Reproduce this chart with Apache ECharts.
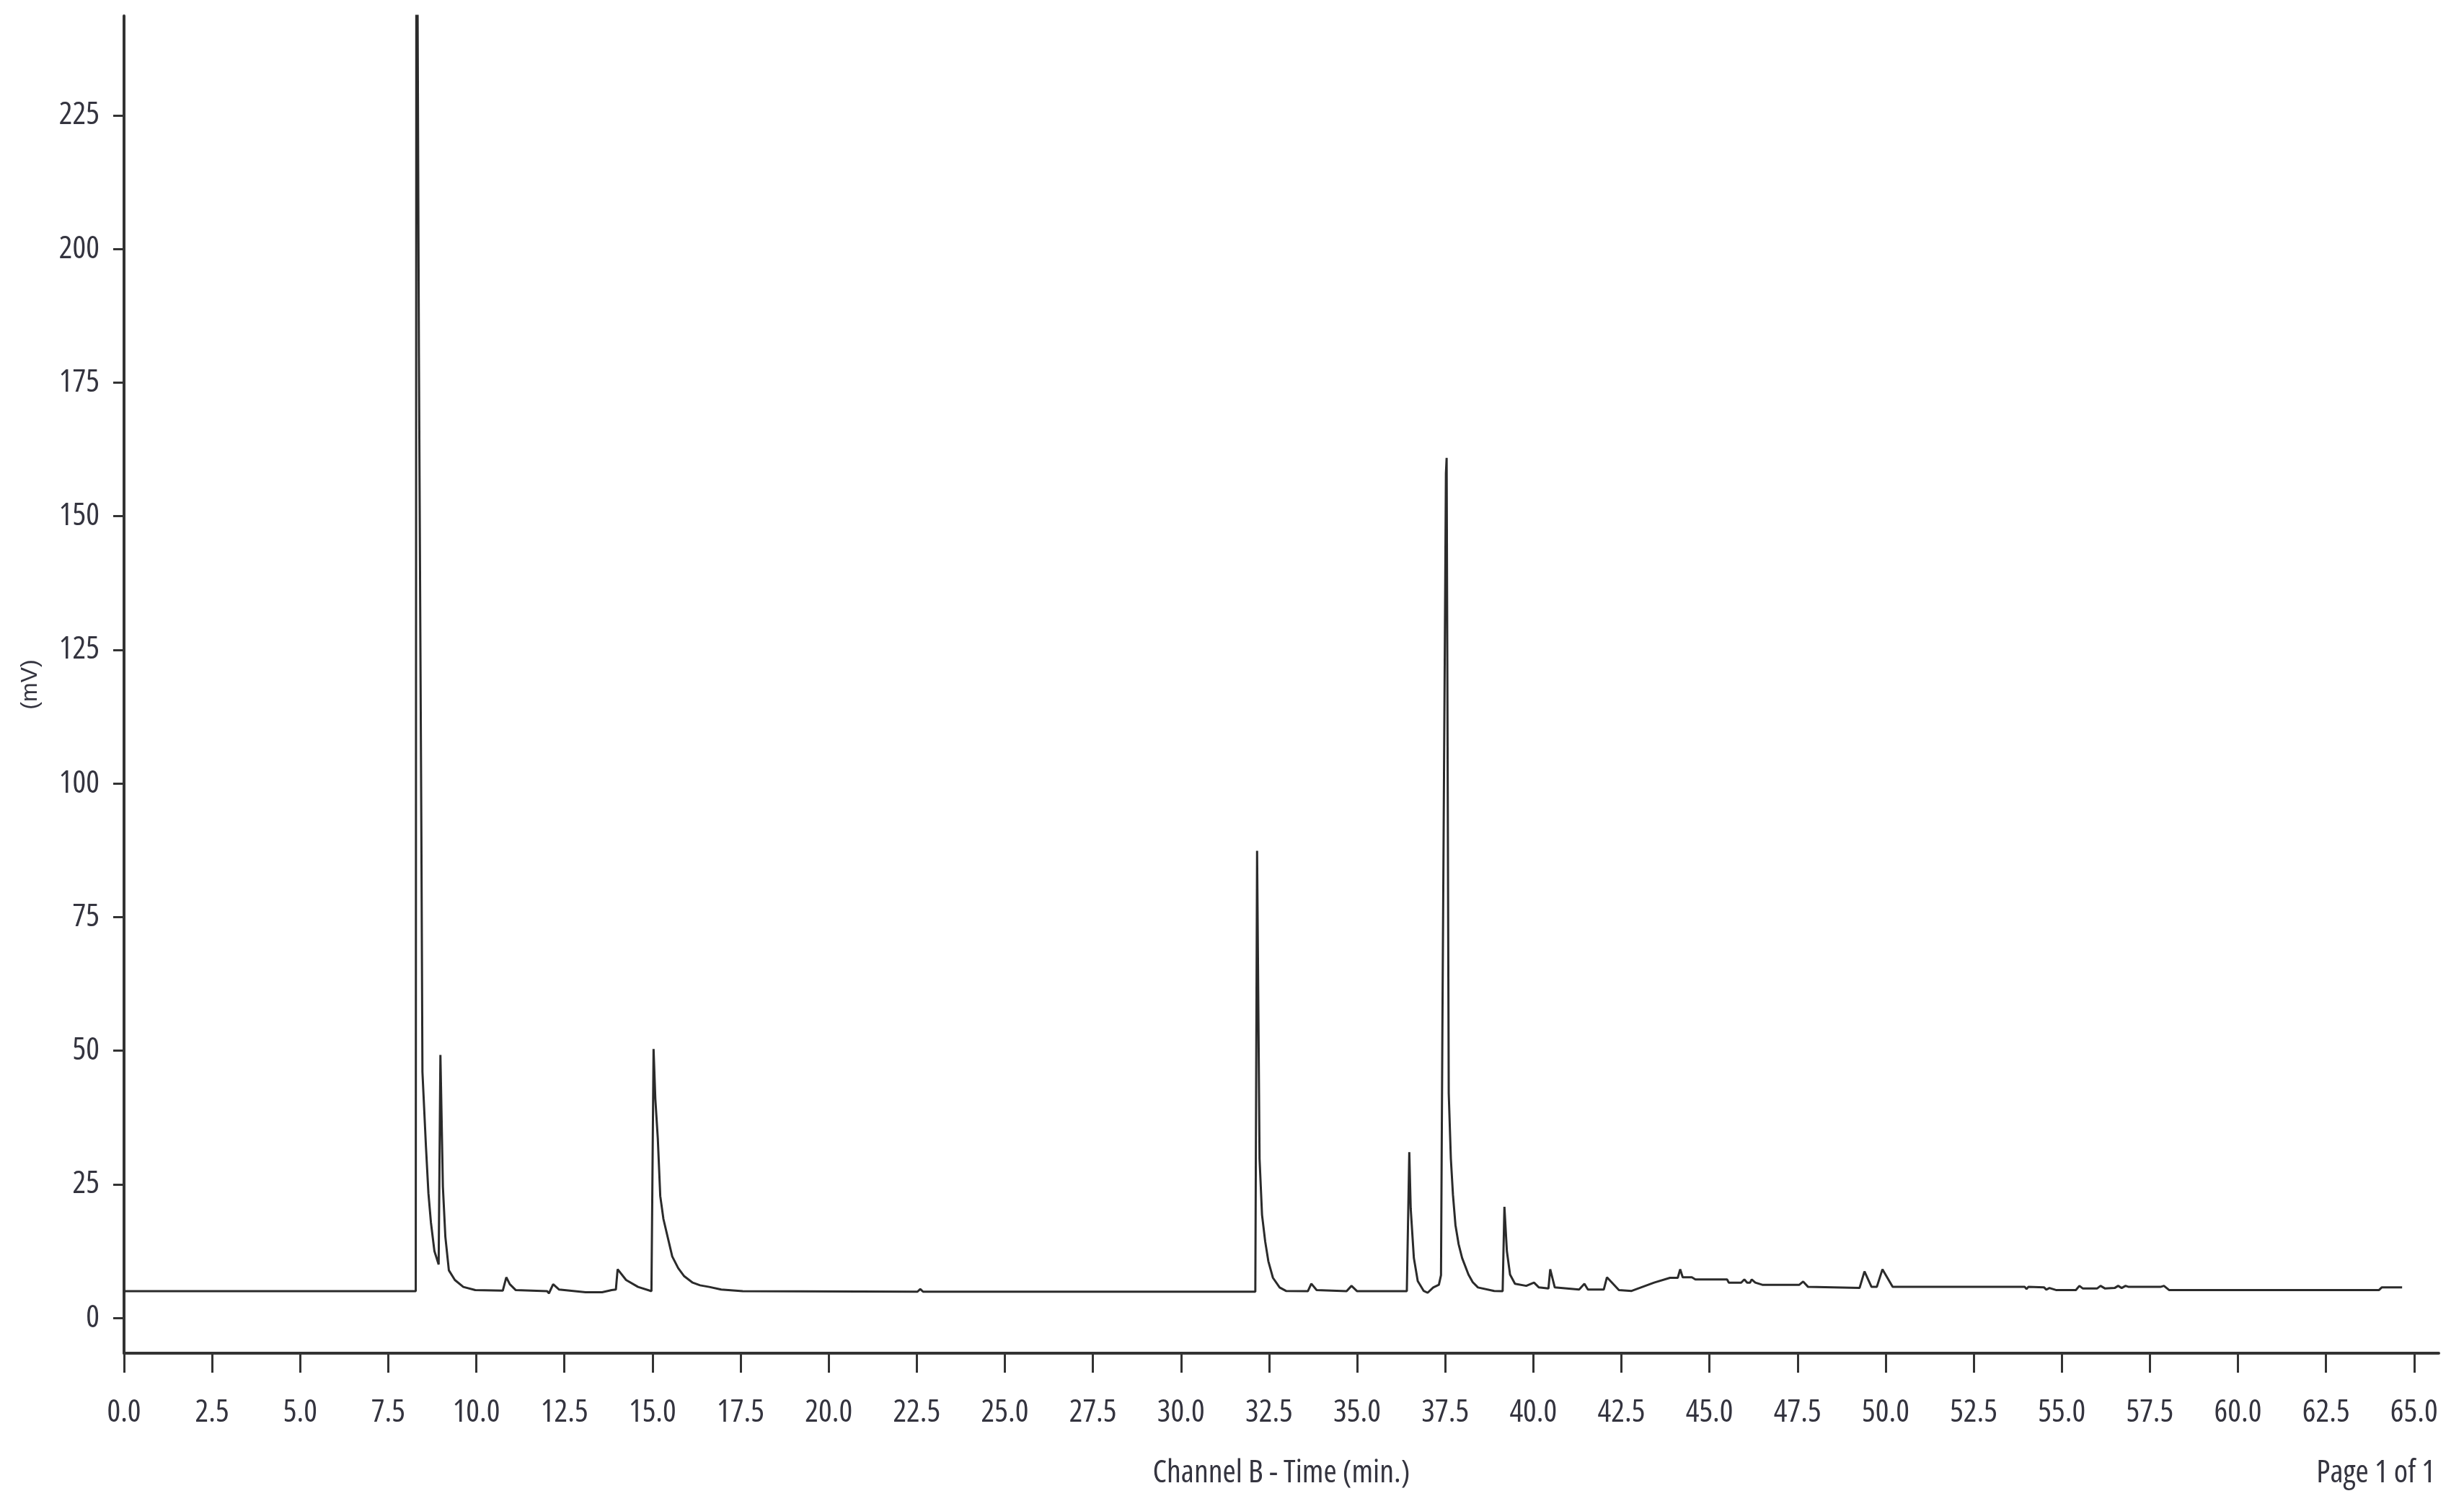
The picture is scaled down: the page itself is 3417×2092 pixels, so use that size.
<!DOCTYPE html>
<html>
<head>
<meta charset="utf-8">
<script src="https://cdn.jsdelivr.net/npm/echarts@6/dist/echarts.min.js"></script>
<style>
html,body{margin:0;padding:0;background:#fff;}
#chart{width:3417px;height:2092px;}
</style>
</head>
<body>
<div id="chart"></div>
<script>
// Retention time (min) of each sampled point of the trace
const timeMin = [
  0, 8.28, 8.30, 8.34, 8.37, 8.44, 8.47, 8.57, 8.64, 8.71, 8.81, 8.93,
  8.98, 9.05, 9.12, 9.22, 9.39, 9.63, 9.97, 10.75, 10.85, 10.95, 11.12,
  12.01, 12.06, 12.18, 12.35, 13.10, 13.57, 13.84, 13.96, 14.01, 14.25,
  14.59, 14.97, 15.03, 15.08, 15.15, 15.22, 15.31, 15.46, 15.56, 15.73,
  15.90, 16.14, 16.35, 16.61, 16.95, 17.56, 22.52, 22.60, 22.68,
  32.11, 32.16, 32.23, 32.30, 32.39, 32.48, 32.61, 32.80, 32.98,
  33.60, 33.70, 33.85, 34.70, 34.84, 35.00,
  36.41, 36.48, 36.52, 36.61, 36.72, 36.89, 37.00, 37.16, 37.32, 37.38,
  37.42, 37.52, 37.54, 37.60, 37.66, 37.72, 37.79, 37.88, 37.98, 38.16,
  38.28, 38.43, 38.89, 39.13, 39.18, 39.25, 39.34, 39.48, 39.80, 40.02,
  40.16, 40.43, 40.48, 40.61, 41.30, 41.45, 41.55, 42.00, 42.09, 42.43,
  42.79, 43.43, 43.88, 44.10, 44.17, 44.24, 44.50, 44.60, 45.50, 45.55,
  45.90, 45.99, 46.07, 46.15, 46.20, 46.30, 46.50, 47.55, 47.66, 47.80,
  49.26, 49.40, 49.60, 49.75, 49.91, 50.20, 53.95, 54.00, 54.05, 54.50,
  54.56, 54.65, 54.85, 55.40, 55.50, 55.60, 56.00, 56.10, 56.23, 56.50,
  56.60, 56.70, 56.81, 56.90, 57.80, 57.90, 58.05, 64.00, 64.08, 64.66
];
// Detector signal (mV) at each of those times
const signalMV = [
  5.0, 5.0, 300, 300, 180, 90, 46, 32, 23.3, 17.9, 12.5, 10.0,
  49.2, 24.6, 15.2, 8.9, 7.1, 5.8, 5.2, 5.1, 7.6, 6.3, 5.2,
  5.0, 4.6, 6.3, 5.3, 4.8, 4.8, 5.2, 5.3, 9.1, 7.1,
  5.8, 5.0, 50.3, 41, 33.6, 22.8, 18.5, 14.3, 11.5, 9.3,
  7.8, 6.6, 6.1, 5.8, 5.3, 5.0, 4.9, 5.4, 4.9,
  4.9, 87.4, 29.8, 19.3, 14.3, 10.6, 7.5, 5.7, 5.05,
  5.0, 6.4, 5.2, 5.0, 6.0, 5.0,
  5.0, 31.0, 20.5, 11.2, 6.9, 5.05, 4.7, 5.7, 6.2, 8.0,
  54.6, 158, 160.9, 42, 29.8, 23.0, 17.4, 13.8, 11.2, 8.1,
  6.7, 5.7, 5.05, 5.0, 20.8, 12.5, 8.1, 6.4, 6.0, 6.6,
  5.7, 5.5, 9.1, 5.7, 5.3, 6.4, 5.3, 5.3, 7.6, 5.2,
  5.05, 6.6, 7.5, 7.5, 9.1, 7.6, 7.6, 7.2, 7.2, 6.6,
  6.6, 7.2, 6.6, 6.6, 7.2, 6.6, 6.2, 6.2, 6.8, 5.8,
  5.6, 8.7, 5.8, 5.8, 9.1, 5.8, 5.8, 5.4, 5.8, 5.7,
  5.3, 5.6, 5.2, 5.2, 6.0, 5.5, 5.5, 6.0, 5.5, 5.6,
  6.0, 5.6, 6.0, 5.8, 5.8, 6.0, 5.2, 5.2, 5.7, 5.7
];
// Axis tick labels
const xTickValues = [0, 2.5, 5, 7.5, 10, 12.5, 15, 17.5, 20, 22.5, 25, 27.5, 30, 32.5,
  35, 37.5, 40, 42.5, 45, 47.5, 50, 52.5, 55, 57.5, 60, 62.5, 65];
const yTickValues = [0, 25, 50, 75, 100, 125, 150, 175, 200, 225];
const xAxisTitle = 'Channel B - Time (min.)';
const yAxisTitle = '(mV)';
const pageText = 'Page 1 of 1';

const seriesData = timeMin.map((t, i) => [t, signalMV[i]]);

const FONT = "'Open Sans', 'Liberation Sans', sans-serif";
const TXT = '#34343f';
const AX = '#333333';

const chart = echarts.init(document.getElementById('chart'), null, {renderer: 'canvas'});
chart.setOption({
  animation: false,
  backgroundColor: '#ffffff',
  grid: {left: 172, right: 35, top: 22, bottom: 216, containLabel: false, outerBoundsMode: 'none'},
  xAxis: {
    type: 'value',
    min: 0,
    max: 65.7,
    name: xAxisTitle,
    nameLocation: 'middle',
    nameGap: 144,
    nameTextStyle: {color: TXT, fontFamily: FONT, fontWeight: 'condensed', fontSize: 44},
    axisLine: {show: true, onZero: false, lineStyle: {color: AX, width: 4}},
    axisTick: {show: true, length: 27, lineStyle: {color: AX, width: 3}, customValues: xTickValues},
    axisLabel: {
      color: TXT, fontFamily: FONT, fontWeight: 'condensed', fontSize: 44, margin: 60,
      customValues: xTickValues,
      formatter: v => Number(v).toFixed(1)
    },
    splitLine: {show: false}
  },
  yAxis: {
    type: 'value',
    min: -6.6,
    max: 243.6,
    name: yAxisTitle,
    nameLocation: 'middle',
    nameGap: 114,
    nameRotate: 90,
    nameTextStyle: {color: TXT, fontFamily: "'Liberation Sans', sans-serif", fontSize: 32},
    axisLine: {show: true, onZero: false, lineStyle: {color: AX, width: 4}},
    axisTick: {show: true, length: 15, lineStyle: {color: AX, width: 3}, customValues: yTickValues},
    axisLabel: {
      color: TXT, fontFamily: FONT, fontWeight: 'condensed', fontSize: 44, margin: 34,
      customValues: yTickValues,
      formatter: v => String(v)
    },
    splitLine: {show: false}
  },
  graphic: [{
    type: 'text',
    right: 40,
    top: 2020,
    style: {text: pageText, fill: TXT, font: "condensed 44px 'Open Sans', 'Liberation Sans', sans-serif"}
  }],
  series: [{
    type: 'line',
    data: seriesData,
    showSymbol: false,
    symbol: 'none',
    clip: true,
    sampling: null,
    lineStyle: {color: '#2b2b2b', width: 3},
    z: 3
  }]
});
</script>
</body>
</html>
